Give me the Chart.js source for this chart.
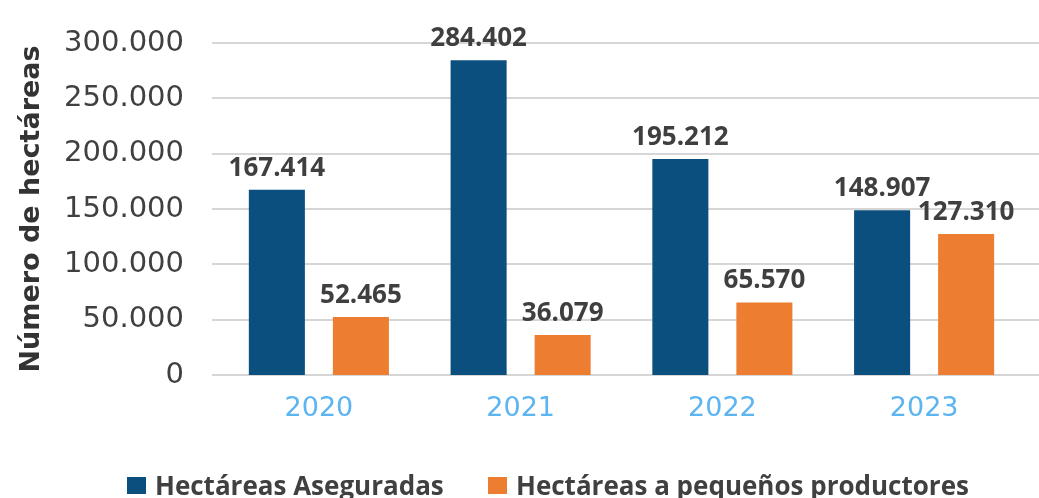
<!DOCTYPE html>
<html>
<head>
<meta charset="utf-8">
<script src="https://cdn.jsdelivr.net/npm/chart.js@4/dist/chart.umd.min.js"></script>
<style>
  html, body { margin: 0; padding: 0; background: #ffffff; }
  #wrap { position: relative; width: 1039px; height: 498px; overflow: hidden; }
  #legend { position: absolute; top: 0; left: 0; width: 1039px; height: 498px; pointer-events: none; }
  .lg-item { position: absolute; top: 467px; display: flex; align-items: center; font-family: 'Open Sans', sans-serif; font-weight: 700; font-size: 26px; color: #404040; white-space: nowrap; }
  .lg-box { width: 19px; height: 17px; margin-right: 9px; }
</style>
</head>
<body>
<div id="wrap">
  <canvas id="c" width="1039" height="498"></canvas>
  <div id="legend"></div>
</div>
<script>
const categories = ['2020', '2021', '2022', '2023'];
const seriesNames = ['Hectáreas Aseguradas', 'Hectáreas a pequeños productores'];
const aseguradas = [167414, 284402, 195212, 148907];
const pequenos = [52465, 36079, 65570, 127310];
const yTicks = [0, 50000, 100000, 150000, 200000, 250000, 300000];
const colors = ['#0b4f7e', '#ed7d31'];

function fmt(v) {
  return String(Math.round(v)).replace(/\B(?=(\d{3})+(?!\d))/g, '.');
}

const FONT = "'Open Sans', sans-serif";
const TICKFONT = "'DejaVu Sans', sans-serif";

const gridPlugin = {
  id: 'customGrid',
  beforeDatasetsDraw(chart) {
    const ctx = chart.ctx;
    const y = chart.scales.y;
    ctx.save();
    ctx.strokeStyle = '#d6d6d6';
    ctx.lineWidth = 2;
    y.ticks.forEach(t => {
      const py = Math.round(y.getPixelForValue(t.value));
      ctx.beginPath();
      ctx.moveTo(212, py);
      ctx.lineTo(chart.width, py);
      ctx.stroke();
    });
    ctx.restore();
  }
};

const labelPlugin = {
  id: 'valueLabels',
  afterDatasetsDraw(chart) {
    const ctx = chart.ctx;
    ctx.save();
    ctx.font = "700 26px " + FONT;
    ctx.fillStyle = '#3f3f3f';
    ctx.textAlign = 'center';
    ctx.textBaseline = 'alphabetic';
    chart.data.datasets.forEach((ds, i) => {
      const meta = chart.getDatasetMeta(i);
      meta.data.forEach((bar, j) => {
        ctx.fillText(fmt(ds.data[j]), bar.x, bar.y - 14);
      });
    });
    ctx.restore();
  }
};

function zeroPad(scale) {
  scale.paddingTop = 0; scale.paddingBottom = 0;
  scale.paddingLeft = 0; scale.paddingRight = 0;
}

const chart = new Chart(document.getElementById('c'), {
  type: 'bar',
  data: {
    labels: categories,
    datasets: [
      { label: seriesNames[0], data: aseguradas, backgroundColor: colors[0] },
      { label: seriesNames[1], data: pequenos, backgroundColor: colors[1] }
    ]
  },
  options: {
    responsive: false,
    animation: false,
    events: [],
    layout: { autoPadding: false, padding: { left: 0, right: 14, top: 43, bottom: 0 } },
    datasets: { bar: { categoryPercentage: 0.833, barPercentage: 0.667 } },
    plugins: { legend: { display: false }, tooltip: { enabled: false } },
    scales: {
      x: {
        grid: { display: false, drawTicks: false },
        border: { display: false },
        ticks: { color: '#5cb4f0', font: { family: TICKFONT, size: 27 }, padding: 18 },
        afterFit(scale) { scale.height = 123; zeroPad(scale); }
      },
      y: {
        min: 0, max: 300000,
        afterBuildTicks(scale) { scale.ticks = yTicks.map(v => ({ value: v })); },
        grid: { display: false, drawTicks: false },
        border: { display: false },
        ticks: { color: '#404040', font: { family: TICKFONT, size: 29 }, padding: 34, callback: v => fmt(v) },
        title: { display: true, text: 'Número de hectáreas', color: '#333333', font: { family: TICKFONT, size: 27, weight: '700' }, padding: { top: 16, bottom: 0 } },
        afterFit(scale) { scale.width = 218; zeroPad(scale); }
      }
    }
  },
  plugins: [gridPlugin, labelPlugin]
});

const legendEl = document.getElementById('legend');
const legendLefts = [127, 488];
chart.data.datasets.forEach((ds, i) => {
  const item = document.createElement('div');
  item.className = 'lg-item';
  item.style.left = legendLefts[i] + 'px';
  const box = document.createElement('span');
  box.className = 'lg-box';
  box.style.background = ds.backgroundColor;
  const txt = document.createElement('span');
  txt.textContent = ds.label;
  item.appendChild(box);
  item.appendChild(txt);
  legendEl.appendChild(item);
});
</script>
</body>
</html>
